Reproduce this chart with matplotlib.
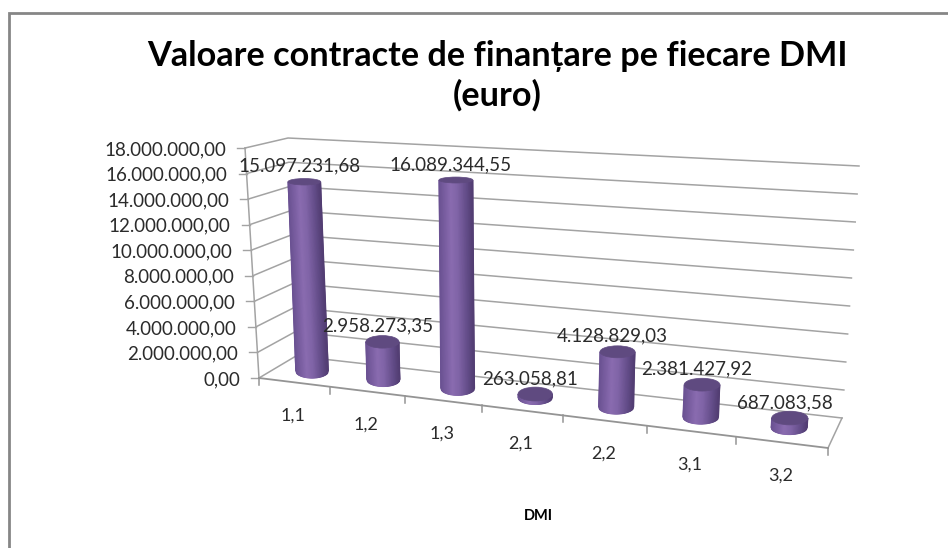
import numpy as np
import matplotlib
matplotlib.use("Agg")
import matplotlib.pyplot as plt
from matplotlib.colors import LinearSegmentedColormap
from matplotlib.patches import Ellipse

# ==========================================
# Data
# ==========================================

categories = ["1,1", "1,2", "1,3", "2,1", "2,2", "3,1", "3,2"]
values = [15097231.68, 2958273.35, 16089344.55, 263058.81, 4128829.03, 2381427.92, 687083.58]
value_labels = ["15.097.231,68", "2.958.273,35", "16.089.344,55", "263.058,81",
                "4.128.829,03", "2.381.427,92", "687.083,58"]
tick_values = [0, 2000000, 4000000, 6000000, 8000000, 10000000, 12000000, 14000000, 16000000, 18000000]
tick_labels = ["0,00", "2.000.000,00", "4.000.000,00", "6.000.000,00", "8.000.000,00",
               "10.000.000,00", "12.000.000,00", "14.000.000,00", "16.000.000,00", "18.000.000,00"]

title = "Valoare contracte de finanțare pe fiecare DMI\n(euro)"
x_title = "DMI"
value_max = 18000000

# ==========================================
# Box of the 3D chart, in picture pixels
# ==========================================

FRONT_LEFT_BOTTOM = np.array([259.0, 378.0])
FRONT_LEFT_TOP = np.array([245.0, 148.0])
FRONT_RIGHT_BOTTOM = np.array([828.0, 448.0])
BACK_LEFT_BOTTOM = np.array([296.0, 356.0])
BACK_LEFT_TOP = np.array([288.0, 138.0])
BACK_RIGHT_BOTTOM = np.array([842.0, 418.0])
BACK_RIGHT_TOP = np.array([859.0, 166.0])
FRONT_RIGHT_TOP = FRONT_RIGHT_BOTTOM + BACK_RIGHT_TOP - BACK_RIGHT_BOTTOM
PERSPECTIVE = -0.1406

GRID = "#a3a3a3"
TEXT = "#2b2b2b"
plt.rcParams["font.family"] = ["Lato", "DejaVu Sans"]


def across(pos):
    # category position (0..7) to 0..1 along the front edge, with perspective
    t = pos / len(categories)
    return t * (1 + PERSPECTIVE) / (1 + PERSPECTIVE * t)


def project(pos, value, depth):
    t = across(pos)
    v = value / value_max
    front_bottom = FRONT_LEFT_BOTTOM + t * (FRONT_RIGHT_BOTTOM - FRONT_LEFT_BOTTOM)
    back_bottom = BACK_LEFT_BOTTOM + t * (BACK_RIGHT_BOTTOM - BACK_LEFT_BOTTOM)
    back_top = BACK_LEFT_TOP + t * (BACK_RIGHT_TOP - BACK_LEFT_TOP)
    front_top = FRONT_LEFT_TOP + t * (FRONT_RIGHT_TOP - FRONT_LEFT_TOP)
    front = front_bottom + v * (front_top - front_bottom)
    back = back_bottom + v * (back_top - back_bottom)
    return front + depth * (back - front)


fig = plt.figure(figsize=(9.48, 5.48), dpi=100)
ax = fig.add_axes([0, 0, 1, 1])
ax.set_xlim(0, 948)
ax.set_ylim(548, 0)
ax.axis("off")

# outer frame, only left and top show in the picture
ax.plot([9.5, 9.5, 948], [548, 13, 13], color="#868686", lw=2, solid_joinstyle="miter")

ax.text(497, 76, title, ha="center", va="center", fontsize=24.7, fontweight="bold",
        color="black", linespacing=1.25)

# ==========================================
# Walls and floor
# ==========================================

n = len(categories)
for tv, label in zip(tick_values, tick_labels):
    front = project(0, tv, 0)
    back = project(0, tv, 1)
    right = project(n, tv, 1)
    ax.plot([front[0] - 8, front[0]], [front[1], front[1]], color=GRID, lw=1)
    ax.plot([front[0], back[0], right[0]], [front[1], back[1], right[1]], color=GRID, lw=1.1)
    ax.text(front[0] - 19, front[1] + 1.5, label, ha="right", va="center", fontsize=13.5, color=TEXT)

a, b = project(0, 0, 0), project(0, value_max, 0)
ax.plot([a[0], b[0]], [a[1], b[1]], color=GRID, lw=1.1)
a, b = project(n, 0, 0), project(n, 0, 1)
ax.plot([a[0], b[0]], [a[1], b[1]], color=GRID, lw=1.1)
a, b = project(0, 0, 0), project(n, 0, 0)
ax.plot([a[0], b[0]], [a[1], b[1]], color="#949494", lw=1.3)

for i in range(n + 1):
    p = project(i, 0, 0)
    ax.plot([p[0], p[0]], [p[1], p[1] + 7], color="#949494", lw=1.1)

for i, cat in enumerate(categories):
    p = project(i + 0.5, 0, 0)
    ax.text(p[0] - 1, p[1] + 33, cat, ha="center", va="center", fontsize=13, color=TEXT)

ax.text(538, 516, x_title, ha="center", va="center", fontsize=10.5, fontweight="bold", color="black")

# ==========================================
# Cylinders
# ==========================================

shade = LinearSegmentedColormap.from_list(
    "cyl", [(0, "#6a5192"), (0.35, "#8a6cb0"), (0.55, "#8064a7"), (0.85, "#604a85"), (1, "#523d72")])
STRIPS = 40

for i, val in enumerate(values):
    base = project(i + 0.5, 0, 0.5)
    top = project(i + 0.5, val, 0.5)
    frac = val / value_max
    rx = 16.3 + 0.3 * i
    ry_base = 7.0
    ry_top = 7.0 - 4.5 * frac

    # side of the cylinder as a two row mesh, shaded from left to right
    across_body = np.linspace(-1, 1, STRIPS + 1)
    bulge = np.sqrt(1 - across_body ** 2)
    X = np.array([top[0] + rx * across_body, base[0] + rx * across_body])
    Y = np.array([top[1] + ry_top * bulge, base[1] + ry_base * bulge])
    C = np.array([np.linspace(0, 1, STRIPS + 1), np.linspace(0, 1, STRIPS + 1)])
    ax.pcolormesh(X, Y, C, shading="gouraud", cmap=shade, vmin=0, vmax=1, zorder=3)

    ax.add_patch(Ellipse(top, 2 * rx, 2 * ry_top, facecolor="#5f4a80", edgecolor="#5f4a80", lw=0.5, zorder=4))

    ax.text(top[0] - 5, top[1] - 15.5, value_labels[i], ha="center", va="center",
            fontsize=13.5, color=TEXT, zorder=5)

fig.savefig("out.png", dpi=100)
